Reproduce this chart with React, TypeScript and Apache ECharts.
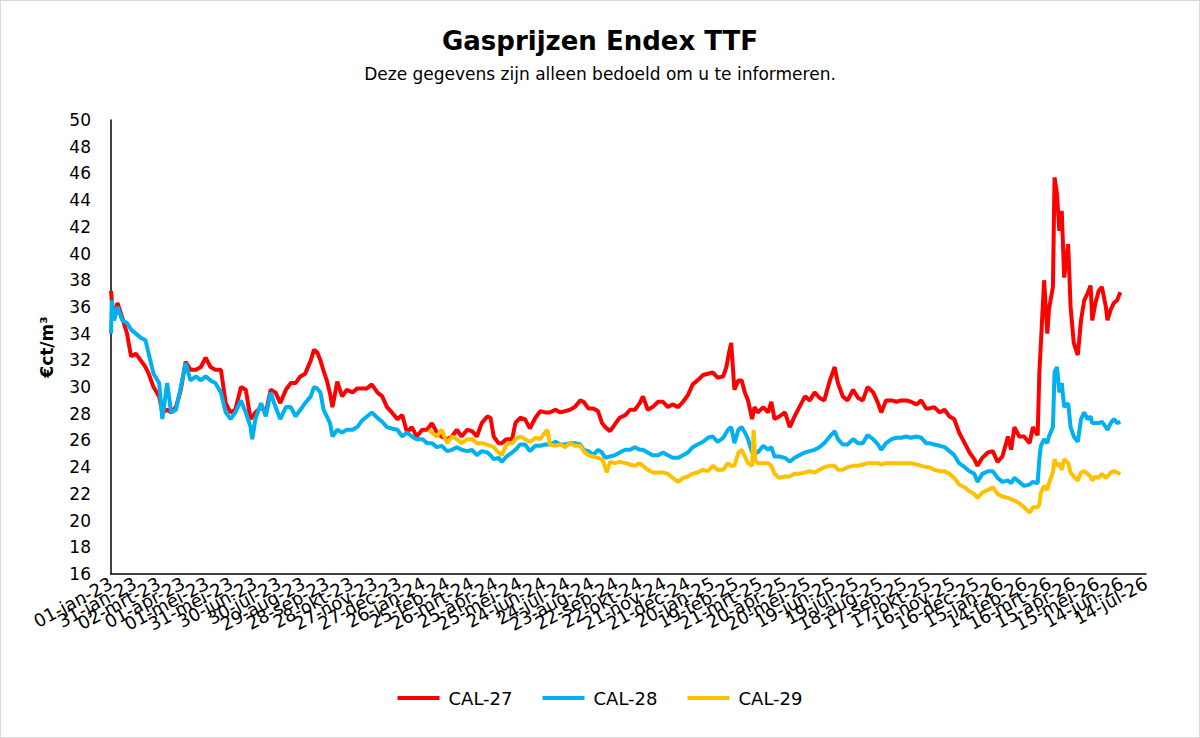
import React, { useEffect, useRef } from "react";
import * as echarts from "echarts";

// Day offsets from 01-jan-2023, price in €ct/m³
const startDate = Date.UTC(2023, 0, 1);
const monthNames = ["jan", "feb", "mrt", "apr", "mei", "jun", "jul", "aug", "sep", "okt", "nov", "dec"];
const seriesNames = ["CAL-27", "CAL-28", "CAL-29"];
const seriesColors = ["#FF0000", "#00B0F0", "#FFC000"];

const cal27: [number, number][] = [
  [0,37.2],[3,35.0],[8,36.3],[14,35.2],[20,34.0],[25,32.3],[31,32.5],[37,32.0],[43,31.5],[47,31.0],[53,30.0],[60,29.3],[64,28.1],[70,28.3],[75,28.1],[81,28.5],[87,29.8],[93,31.9],[99,31.3],[106,31.3],[112,31.5],[118,32.2],[124,31.5],[130,31.3],[137,31.3],[143,28.8],[149,28.1],[155,28.3],[162,30.0],[168,29.8],[174,27.6],[180,28.1],[187,28.5],[193,28.1],[199,29.8],[205,29.6],[211,28.8],[218,29.8],[224,30.3],[230,30.3],[236,30.8],[242,31.0],[249,32.0],[253,32.8],[257,32.6],[261,32.0],[265,31.2],[269,30.5],[273,29.5],[276,28.5],[282,30.4],[288,29.3],[294,29.8],[301,29.6],[307,29.9],[313,29.9],[319,29.9],[325,30.2],[332,29.6],[338,29.3],[344,28.5],[350,28.1],[357,27.6],[363,27.9],[369,26.6],[375,27.0],[381,26.3],[388,26.8],[394,26.8],[400,27.3],[406,26.6],[412,26.3],[419,26.1],[425,26.3],[431,26.8],[437,26.3],[444,26.8],[450,26.7],[456,26.3],[462,27.3],[469,27.8],[473,27.7],[477,26.3],[483,25.8],[487,25.8],[493,26.1],[500,26.1],[504,27.3],[510,27.7],[516,27.6],[522,26.9],[529,27.7],[535,28.2],[541,28.1],[547,28.1],[554,28.3],[560,28.1],[566,28.2],[572,28.3],[578,28.5],[585,29.0],[589,28.9],[595,28.4],[601,28.4],[607,28.2],[612,27.3],[616,27.0],[622,26.7],[628,27.2],[634,27.7],[641,27.9],[647,28.3],[653,28.3],[659,28.8],[663,29.3],[669,28.3],[675,28.5],[682,28.9],[688,28.9],[694,28.5],[700,28.7],[707,28.5],[713,28.9],[719,29.4],[725,30.2],[731,30.5],[738,30.9],[744,31.0],[750,31.1],[756,30.7],[763,30.8],[767,31.5],[770,32.5],[773,33.3],[777,29.8],[782,30.5],[786,30.5],[790,29.6],[794,29.0],[799,27.6],[802,28.5],[806,28.1],[813,28.5],[819,28.1],[823,28.9],[827,27.6],[833,27.8],[840,28.1],[846,27.0],[852,27.8],[858,28.5],[865,29.3],[871,29.0],[877,29.6],[883,29.2],[889,29.0],[896,30.5],[902,31.5],[906,30.3],[912,29.3],[918,29.0],[925,29.8],[931,29.2],[937,29.0],[943,30.0],[950,29.6],[956,28.8],[960,28.1],[966,29.0],[973,29.0],[979,28.9],[985,29.0],[991,29.0],[997,28.9],[1004,28.7],[1010,29.0],[1016,28.4],[1020,28.4],[1026,28.5],[1033,28.1],[1039,28.3],[1045,27.8],[1051,27.6],[1057,26.6],[1064,25.8],[1070,25.1],[1076,24.6],[1080,24.1],[1086,24.7],[1093,25.1],[1099,25.2],[1105,24.4],[1111,24.8],[1118,26.3],[1122,25.3],[1126,27.0],[1132,26.3],[1138,26.3],[1145,25.8],[1149,27.0],[1155,26.4],[1157,31.0],[1159,33.3],[1163,38.0],[1167,34.0],[1169,35.8],[1174,37.5],[1176,45.7],[1179,44.5],[1182,41.7],[1185,43.2],[1188,38.2],[1193,40.7],[1196,36.0],[1200,33.3],[1205,32.4],[1209,35.0],[1213,36.5],[1217,37.0],[1221,37.6],[1223,35.0],[1227,36.3],[1231,37.2],[1235,37.5],[1240,36.0],[1242,35.0],[1246,35.8],[1250,36.3],[1254,36.5],[1258,37.1]
];

const cal28: [number, number][] = [
  [0,34.0],[1,36.5],[4,35.0],[8,36.0],[14,35.0],[20,34.8],[25,34.3],[31,34.0],[37,33.7],[43,33.5],[47,32.5],[53,31.0],[60,30.3],[64,27.6],[70,30.3],[75,28.1],[81,28.3],[87,30.0],[93,31.8],[99,30.5],[106,30.8],[112,30.5],[118,30.8],[124,30.5],[130,30.3],[137,29.6],[143,28.1],[149,27.6],[155,28.1],[162,29.0],[168,28.1],[174,27.0],[176,26.1],[180,27.6],[187,28.8],[193,27.8],[199,29.6],[205,28.5],[211,27.6],[218,28.5],[224,28.5],[230,27.8],[236,28.3],[242,28.8],[249,29.3],[253,30.0],[257,29.9],[261,29.6],[265,28.3],[269,27.8],[273,27.3],[276,26.3],[282,26.8],[288,26.6],[294,26.8],[301,26.8],[307,27.0],[313,27.5],[319,27.8],[325,28.1],[332,27.7],[338,27.4],[344,27.0],[350,26.9],[357,26.8],[363,26.3],[369,26.6],[375,26.3],[381,26.1],[388,26.1],[394,25.8],[400,25.8],[406,25.5],[412,25.6],[419,25.2],[425,25.3],[431,25.5],[437,25.3],[444,25.2],[450,25.3],[456,24.9],[462,25.2],[469,25.1],[473,24.9],[477,24.6],[483,24.7],[487,24.4],[493,24.8],[500,25.1],[504,25.3],[510,25.7],[516,25.7],[522,25.2],[529,25.6],[535,25.6],[541,25.7],[547,25.7],[554,25.9],[560,25.7],[566,25.7],[572,25.8],[578,25.8],[585,25.7],[589,25.3],[595,25.2],[601,24.9],[607,25.3],[612,25.1],[616,24.7],[622,24.8],[628,24.9],[634,25.1],[641,25.3],[647,25.3],[653,25.5],[659,25.3],[663,25.3],[669,25.1],[675,24.9],[682,24.9],[688,25.1],[694,24.9],[700,24.7],[707,24.7],[713,24.9],[719,25.1],[725,25.5],[731,25.7],[738,25.9],[744,26.2],[750,26.3],[756,25.9],[763,26.2],[769,26.8],[773,27.0],[777,25.8],[782,26.8],[786,27.0],[790,26.6],[794,26.1],[799,25.1],[806,25.1],[813,25.6],[819,25.3],[823,25.5],[827,24.8],[833,24.8],[840,24.7],[846,24.4],[852,24.7],[858,24.9],[865,25.1],[871,25.2],[877,25.3],[883,25.5],[889,25.8],[896,26.3],[902,26.7],[906,26.1],[912,25.7],[918,25.7],[925,26.1],[931,25.8],[937,25.8],[943,26.4],[950,26.1],[956,25.7],[960,25.3],[966,25.8],[973,26.1],[979,26.2],[985,26.2],[991,26.3],[997,26.2],[1004,26.3],[1010,26.2],[1016,25.8],[1020,25.8],[1026,25.7],[1033,25.6],[1039,25.5],[1045,25.2],[1051,24.9],[1057,24.3],[1064,24.0],[1070,23.7],[1076,23.5],[1080,22.9],[1086,23.5],[1093,23.7],[1099,23.7],[1105,23.2],[1111,22.9],[1118,23.0],[1122,22.8],[1126,23.2],[1132,22.9],[1138,22.6],[1145,22.7],[1149,22.9],[1155,22.8],[1157,24.6],[1159,25.6],[1163,26.1],[1167,25.8],[1169,26.3],[1174,27.0],[1176,31.1],[1179,31.5],[1182,29.6],[1185,30.3],[1188,28.5],[1193,28.8],[1196,27.0],[1200,26.3],[1205,25.9],[1209,27.6],[1213,28.1],[1217,27.6],[1221,27.8],[1223,27.3],[1227,27.3],[1231,27.3],[1235,27.4],[1240,27.0],[1242,26.8],[1246,27.3],[1250,27.6],[1254,27.3],[1258,27.4]
];

const cal29: [number, number][] = [
  [396,26.8],[400,26.6],[406,26.3],[412,26.8],[419,25.8],[425,26.3],[431,26.1],[437,25.8],[444,26.1],[450,26.1],[456,25.8],[462,25.8],[469,25.7],[473,25.6],[477,25.5],[483,25.1],[487,24.9],[493,25.7],[500,25.8],[504,26.1],[510,26.3],[516,26.1],[522,25.9],[529,26.2],[535,26.1],[541,26.6],[544,26.8],[547,25.7],[554,25.6],[560,25.7],[566,25.5],[572,25.8],[578,25.6],[585,25.6],[589,25.2],[595,24.9],[601,24.8],[607,24.7],[612,24.6],[616,24.0],[618,23.6],[622,24.4],[628,24.3],[634,24.4],[641,24.3],[647,24.2],[653,24.1],[659,24.3],[663,24.1],[669,23.8],[675,23.6],[682,23.6],[688,23.6],[694,23.5],[700,23.2],[707,22.9],[713,23.2],[719,23.3],[725,23.5],[731,23.6],[738,23.8],[744,23.7],[750,24.1],[756,23.8],[763,23.8],[769,24.3],[773,24.1],[777,24.1],[782,25.1],[786,25.3],[790,24.8],[794,24.3],[799,24.1],[801,26.8],[803,24.5],[806,24.3],[813,24.3],[819,24.3],[823,24.1],[827,23.5],[833,23.2],[840,23.3],[846,23.3],[852,23.5],[858,23.5],[865,23.6],[871,23.7],[877,23.6],[883,23.8],[889,24.0],[896,24.1],[902,24.1],[906,23.8],[912,23.8],[918,24.0],[925,24.1],[931,24.1],[937,24.2],[943,24.3],[950,24.3],[956,24.3],[960,24.2],[966,24.3],[973,24.3],[979,24.3],[985,24.3],[991,24.3],[997,24.3],[1004,24.2],[1010,24.1],[1016,24.0],[1020,24.0],[1026,23.8],[1033,23.7],[1039,23.7],[1045,23.5],[1051,23.2],[1057,22.7],[1064,22.5],[1070,22.2],[1076,22.0],[1080,21.7],[1086,22.1],[1093,22.3],[1099,22.5],[1105,22.0],[1111,21.8],[1118,21.7],[1122,21.6],[1126,21.5],[1132,21.3],[1138,21.0],[1145,20.6],[1149,21.0],[1155,21.0],[1157,21.2],[1159,22.1],[1163,22.6],[1167,22.3],[1169,22.8],[1174,23.6],[1176,24.6],[1179,24.1],[1182,24.3],[1185,23.8],[1188,24.6],[1193,24.3],[1196,23.6],[1200,23.3],[1205,23.0],[1209,23.6],[1213,23.7],[1217,23.5],[1221,23.3],[1223,23.0],[1227,23.3],[1231,23.2],[1235,23.5],[1240,23.2],[1242,23.3],[1246,23.6],[1250,23.7],[1254,23.6],[1258,23.5]
];

const seriesData = [cal27, cal28, cal29];

const xMin = 0;
const xMax = 1290;
const xInterval = 30;
const yMin = 16;
const yMax = 50;
const yInterval = 2;

function dayLabel(v: number): string {
  const d = new Date(startDate + v * 86400000);
  const dd = String(d.getUTCDate()).padStart(2, "0");
  const yy = String(d.getUTCFullYear()).slice(2);
  return `${dd}-${monthNames[d.getUTCMonth()]}-${yy}`;
}

const FONT = "DejaVu Sans";

export default function App() {
  const ref = useRef<HTMLDivElement>(null);
  useEffect(() => {
    if (!ref.current) return;
    const chart = echarts.init(ref.current, undefined, { renderer: "svg" });
    // Two bottom axes share the scale: one carries even-indexed labels, the other odd ones,
    // so that ECharts never drops a label next to the min/max label.
    const makeX = (parity: number, showLine: boolean) => ({
      type: "value",
      position: "bottom",
      min: xMin,
      max: xMax,
      interval: xInterval,
      axisLine: { show: showLine, onZero: false, lineStyle: { color: "#000", width: 1.5 } },
      axisTick: { show: false },
      splitLine: { show: false },
      axisLabel: {
        rotate: 28,
        fontSize: 18,
        color: "#000",
        fontFamily: FONT,
        margin: 8,
        showMinLabel: true,
        showMaxLabel: true,
        formatter: (v: number) => (Math.round(v / xInterval) % 2 === parity ? dayLabel(v) : ""),
      },
    });
    chart.setOption({
      animation: false,
      backgroundColor: "#ffffff",
      textStyle: { fontFamily: FONT, color: "#000" },
      title: {
        text: "Gasprijzen Endex TTF",
        subtext: "Deze gegevens zijn alleen bedoeld om u te informeren.",
        left: "center",
        top: 22,
        itemGap: 11,
        textStyle: { fontFamily: FONT, fontSize: 26, fontWeight: "bold", color: "#000" },
        subtextStyle: { fontFamily: FONT, fontSize: 17, color: "#000" },
      },
      legend: {
        bottom: 25,
        left: "center",
        icon: "rect",
        itemWidth: 42,
        itemHeight: 4,
        itemGap: 30,
        textStyle: { fontFamily: FONT, fontSize: 18, color: "#000", padding: [0, 0, 0, 4] },
        data: seriesNames,
      },
      grid: { left: 110, top: 119, right: 53, bottom: 163, containLabel: false },
      xAxis: [makeX(0, true), makeX(1, false)],
      yAxis: {
        type: "value",
        min: yMin,
        max: yMax,
        interval: yInterval,
        name: "€ct/m³",
        nameLocation: "middle",
        nameRotate: 90,
        nameGap: 56,
        nameTextStyle: { fontFamily: FONT, fontSize: 17, fontWeight: "bold", color: "#000" },
        axisLine: { show: true, lineStyle: { color: "#000", width: 1.5 } },
        axisTick: { show: false },
        splitLine: { show: false },
        axisLabel: { fontSize: 17, color: "#000", fontFamily: FONT, margin: 20 },
      },
      series: seriesNames.map((name, i) => ({
        name,
        type: "line",
        xAxisIndex: 0,
        data: seriesData[i],
        showSymbol: false,
        symbol: "none",
        lineStyle: { color: seriesColors[i], width: 4 },
        itemStyle: { color: seriesColors[i] },
      })),
    });
    return () => chart.dispose();
  }, []);
  return (
    <div
      style={{
        position: "absolute",
        left: 0,
        top: 0,
        width: 1200,
        height: 738,
        boxSizing: "border-box",
        border: "1px solid #d9d9d9",
        background: "#fff",
      }}
    >
      <div ref={ref} style={{ width: "100%", height: "100%" }} />
    </div>
  );
}
